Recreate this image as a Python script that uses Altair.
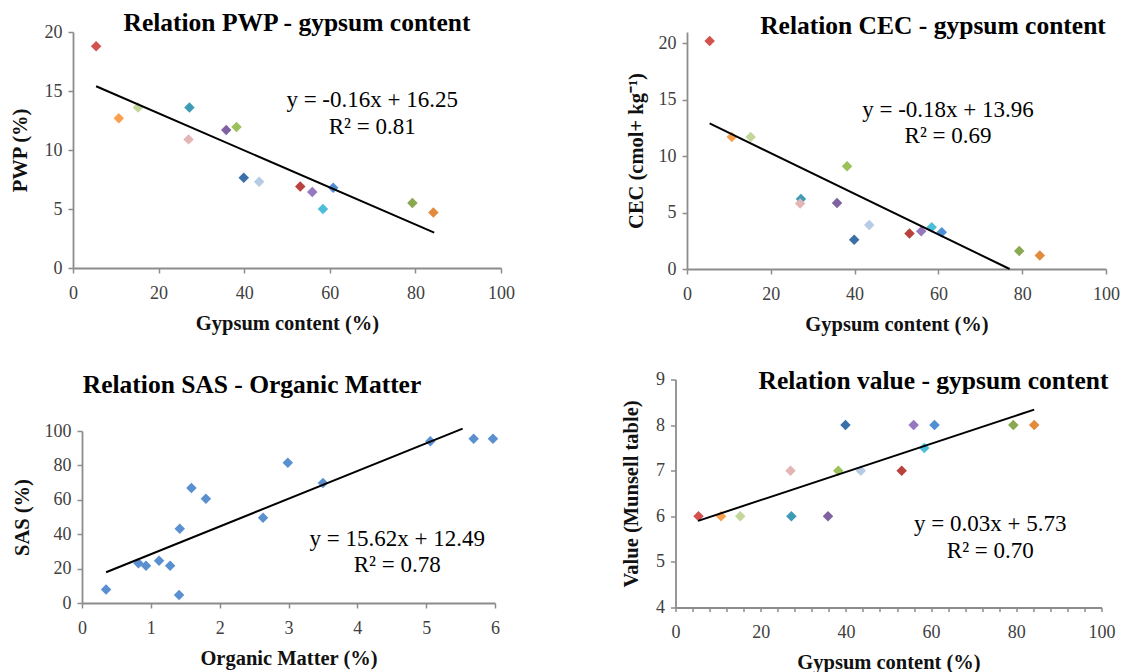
import altair as alt
import pandas as pd

# ---- data ----
gypsum = [5.4, 10.7, 15.2, 27.2, 27.0, 35.8, 38.2, 39.9, 43.5, 53.1, 55.9, 58.4, 60.8, 79.3, 84.2]
pwp = [18.8, 12.7, 13.6, 13.6, 10.9, 11.7, 11.95, 7.65, 7.3, 6.9, 6.45, 5.0, 6.8, 5.5, 4.7]
cec = [20.2, 11.7, 11.7, 6.2, 5.8, 5.85, 9.1, 2.6, 3.9, 3.15, 3.35, 3.7, 3.25, 1.6, 1.2]
munsell = [6, 6, 6, 6, 7, 6, 7, 8, 7, 7, 8, 7.5, 8, 8, 8]
sample_colors = ["#D2524F", "#F9A04E", "#C3D69B", "#3D9BB5", "#E3B5B4", "#7E62A1",
                 "#9BC25A", "#3A6FA8", "#B7CBE5", "#B9413E", "#9778C0", "#4DBEDA",
                 "#4F8FD4", "#89A850", "#E38B3C"]

organic = [0.35, 0.82, 0.93, 1.12, 1.28, 1.41, 1.42, 1.59, 1.80, 2.63, 2.99, 3.50, 5.06, 5.69, 5.97]
sas = [7.8, 23.1, 21.7, 24.5, 21.7, 4.7, 43.1, 66.8, 60.6, 49.5, 81.6, 69.7, 94.0, 95.5, 95.5]
sas_color = "#5A8FD0"

trend_pwp_x, trend_pwp_y = [5.4, 84.4], [15.4, 3.0]
trend_cec_x, trend_cec_y = [5.4, 77.0], [12.9, 0.0]
trend_sas_x, trend_sas_y = [0.35, 5.53], [17.9, 101.4]
trend_val_x, trend_val_y = [5.3, 84.2], [5.9, 8.34]

eq_pwp = ["y = -0.16x + 16.25", "R² = 0.81"]
eq_cec = ["y = -0.18x + 13.96", "R² = 0.69"]
eq_sas = ["y = 15.62x + 12.49", "R² = 0.78"]
eq_val = ["y = 0.03x + 5.73", "R² = 0.70"]

gyp_ticks = [0, 20, 40, 60, 80, 100]
gyp_minor = list(range(0, 101, 4))
pct_ticks = [0, 5, 10, 15, 20]
om_ticks = [0, 1, 2, 3, 4, 5, 6]
sas_ticks = [0, 20, 40, 60, 80, 100]
val_ticks = [4, 5, 6, 7, 8, 9]

FONT = "Liberation Serif"


def panel(xs, ys, colors, xdom, ydom, xvals, yvals, w, h, title, tpos,
          tx, ty, eq, epos, xtitle, ytitle, ytx, tick=5, label_every=None):
    pts = pd.DataFrame({"x": xs, "y": ys, "c": colors})
    xkw = dict(values=xvals, title=xtitle, titleY=55, titleBaseline="middle",
               labelPadding=16 - tick, tickSize=tick, labelFlush=False,
               labelOverlap=False, format="d", grid=False)
    if label_every:
        xkw["labelExpr"] = "datum.value %% %d === 0 ? datum.label : ''" % label_every
    xaxis = alt.Axis(**xkw)
    yaxis = alt.Axis(values=yvals, title=ytitle, titleX=ytx, titleBaseline="middle",
                     labelPadding=6, tickSize=5, labelOverlap=False, format="d", grid=False)
    xs_ = alt.Scale(domain=xdom, nice=False, zero=False)
    ys_ = alt.Scale(domain=ydom, nice=False, zero=False)
    X = lambda: alt.X("x:Q", scale=xs_, axis=xaxis)
    Y = lambda: alt.Y("y:Q", scale=ys_, axis=yaxis)
    points = alt.Chart(pts).mark_point(shape="diamond", filled=True, size=110, opacity=1).encode(
        x=X(), y=Y(), color=alt.Color("c:N", scale=None))
    line = alt.Chart(pd.DataFrame({"x": tx, "y": ty})).mark_line(
        color="black", strokeWidth=2, clip=False).encode(x=X(), y=Y())
    ann = alt.Chart(pd.DataFrame({"x": [epos[0], epos[0]], "y": [epos[1], epos[2]], "t": eq})).mark_text(
        font=FONT, fontSize=23, color="black", align="center", baseline="middle").encode(
        x=X(), y=Y(), text="t:N")
    ttl = alt.Chart(pd.DataFrame({"t": [title]})).mark_text(
        font=FONT, fontSize=25.5, fontWeight="bold", color="black", align="center",
        baseline="middle").encode(x=alt.value(tpos[0]), y=alt.value(tpos[1]), text="t:N")
    return alt.layer(points, line, ann, ttl).properties(width=w, height=h)


def spacer():
    return alt.Chart(pd.DataFrame({"a": [0]})).mark_point(opacity=0).encode(
        x=alt.value(0), y=alt.value(0)).properties(width=1, height=1)


p1 = panel(gypsum, pwp, sample_colors, [0, 100], [0, 20], gyp_ticks, pct_ticks,
           428, 236, "Relation PWP - gypsum content", (224, -9),
           trend_pwp_x, trend_pwp_y, eq_pwp, (69.9, 14.2, 11.95),
           "Gypsum content (%)", "PWP (%)", -53)
p2 = panel(gypsum, cec, sample_colors, [0, 100], [0, 21], gyp_ticks, pct_ticks,
           419, 237, "Relation CEC - gypsum content", (246, -6.5),
           trend_cec_x, trend_cec_y, eq_cec, (62.3, 14.07, 11.77),
           "Gypsum content (%)", "CEC (cmol+ kg⁻¹)", -51)
p3 = panel(organic, sas, [sas_color] * len(sas), [0, 6], [0, 100], om_ticks,
           sas_ticks, 413, 172, "Relation SAS - Organic Matter", (170, -46),
           trend_sas_x, trend_sas_y, eq_sas, (4.58, 37.2, 22.1),
           "Organic Matter (%)", "SAS (%)", -60)
p4 = panel(gypsum, munsell, sample_colors, [0, 100], [4, 9], gyp_minor, val_ticks,
           426, 228, "Relation value - gypsum content", (258, 1),
           trend_val_x, trend_val_y, eq_val, (73.9, 5.84, 5.23),
           "Gypsum content (%)", "Value (Munsell table)", -44, tick=4, label_every=20)

row1 = alt.hconcat(p1, p2, spacing=110)
g3v = alt.vconcat(spacer(), p3, spacing=-9.5)
g3 = alt.hconcat(spacer(), g3v, spacing=-64)
row2 = alt.hconcat(g3, p4, spacing=120.5)
chart = alt.vconcat(row1, row2, spacing=33.5).properties(
    padding={"left": 2, "top": 3, "right": 0, "bottom": 0}
).configure_view(stroke=None).configure_axis(
    labelFont=FONT, labelFontSize=18, labelColor="#404040",
    titleFont=FONT, titleFontSize=20.5, titleFontWeight="bold", titleColor="#111111",
    domainColor="#8c8c8c", domainWidth=1.8, tickColor="#8c8c8c", tickWidth=1.5,
)

chart.save("out.html", embed_options={"renderer": "svg", "actions": False})
